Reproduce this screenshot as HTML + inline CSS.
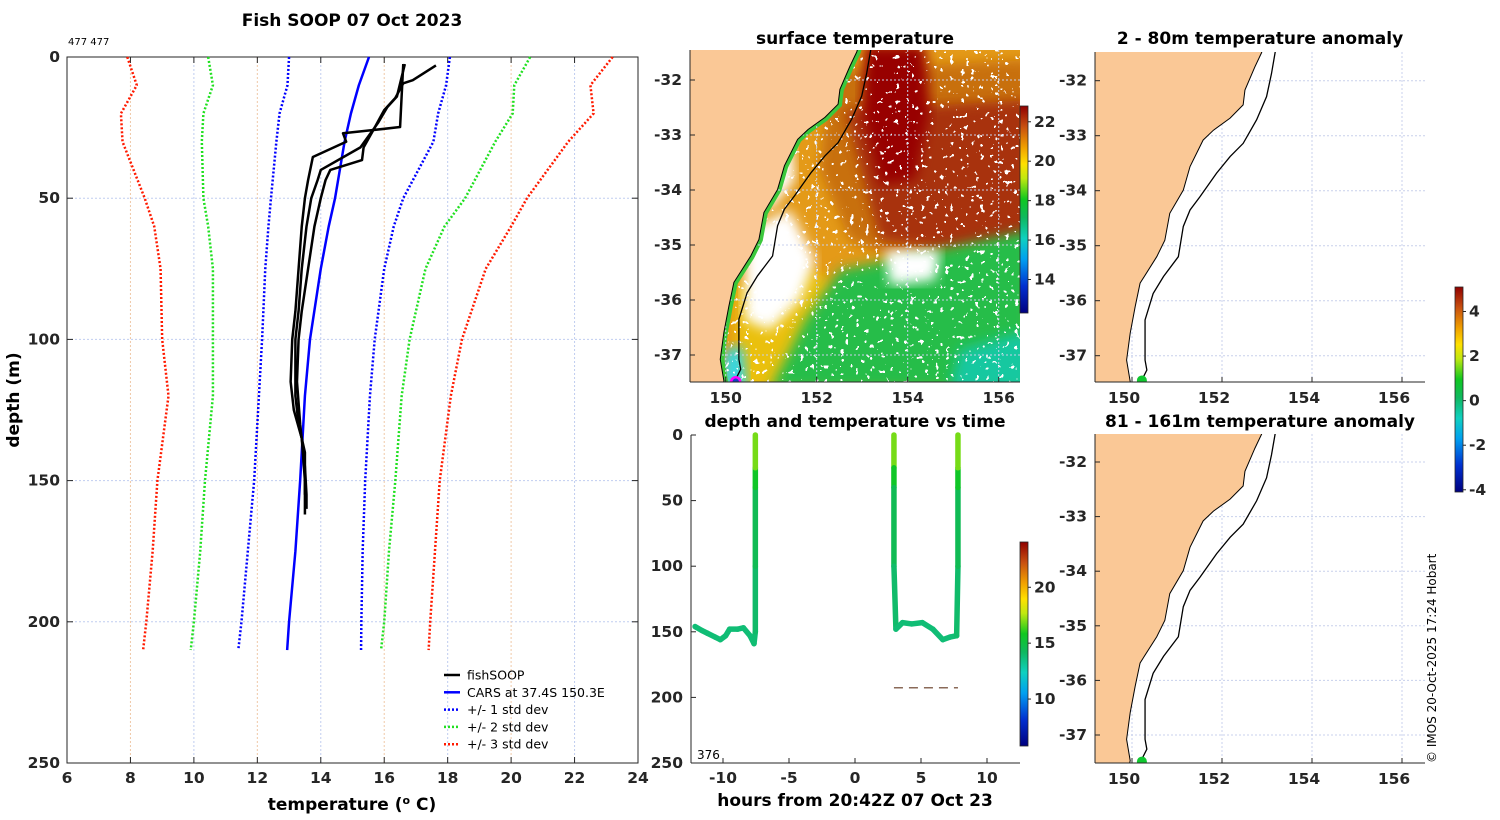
<!DOCTYPE html>
<html><head><meta charset="utf-8"><style>
html,body{margin:0;padding:0;background:#fff}
svg{display:block;font-family:"DejaVu Sans","Liberation Sans",sans-serif}
.t{font-weight:bold;font-size:15.5px;fill:#262626}
.ti{font-weight:bold;font-size:17px;fill:#000}
</style></head><body>
<svg id="fig" width="1500" height="820" viewBox="0 0 1500 820" xmlns="http://www.w3.org/2000/svg">
<defs>
<linearGradient id="cmap" x1="0" y1="1" x2="0" y2="0">
<stop offset="0" stop-color="#00007f"/><stop offset="0.13" stop-color="#0030d0"/><stop offset="0.26" stop-color="#00a0f0"/><stop offset="0.36" stop-color="#10d0c0"/><stop offset="0.46" stop-color="#10b860"/><stop offset="0.55" stop-color="#10c820"/><stop offset="0.65" stop-color="#c0e810"/><stop offset="0.72" stop-color="#ffe000"/><stop offset="0.8" stop-color="#f0a000"/><stop offset="0.9" stop-color="#c85010"/><stop offset="1" stop-color="#900000"/>
</linearGradient>
<clipPath id="c1"><rect x="690" y="50" width="330" height="332"/></clipPath>
<clipPath id="c2"><rect x="1095" y="52" width="330" height="330"/></clipPath>
<clipPath id="c3"><rect x="1095" y="434" width="330" height="329"/></clipPath>
<filter id="blur6"><feGaussianBlur stdDeviation="6"/></filter>
<filter id="speck" x="0" y="0" width="100%" height="100%">
<feTurbulence type="fractalNoise" baseFrequency="0.2" numOctaves="2" seed="4"/>
<feColorMatrix type="matrix" values="0 0 0 0 1  0 0 0 0 1  0 0 0 0 1  1.6 0 0 0 -0.6"/>
<feComponentTransfer><feFuncA type="discrete" tableValues="0 1"/></feComponentTransfer>
</filter>
</defs>
<g id="root"></g>
<text class="ti" x="352" y="26" text-anchor="middle">Fish SOOP 07 Oct 2023</text>
<text x="68" y="45" font-size="10" fill="#000">477 477</text>
<text class="ti" x="352" y="810" text-anchor="middle">temperature (<tspan font-size="11" dy="-6">o</tspan><tspan dy="6"> C)</tspan></text>
<text class="ti" x="0" y="0" transform="translate(19,400) rotate(-90)" text-anchor="middle">depth (m)</text>
<text class="ti" x="855" y="44" text-anchor="middle">surface temperature</text>
<text class="ti" x="1260" y="44" text-anchor="middle">2 - 80m temperature anomaly</text>
<text class="ti" x="855" y="427" text-anchor="middle">depth and temperature vs time</text>
<text class="ti" x="1260" y="427" text-anchor="middle">81 - 161m temperature anomaly</text>
<text class="ti" x="855" y="806" text-anchor="middle">hours from 20:42Z 07 Oct 23</text>
<text x="697" y="759" font-size="12" fill="#000">376</text>
<text x="0" y="0" transform="translate(1436,763) rotate(-90)" font-size="12" fill="#000">© IMOS 20-Oct-2025 17:24 Hobart</text>
</svg>
<script>
// ---------- main profile chart data ----------
const stdDepths = [0,10,20,30,50,60,75,100,120,150,175,200,210];
const cars = [15.52,15.2,14.95,14.75,14.45,14.25,14.0,13.66,13.5,13.35,13.2,13.0,12.94];
const plus1 = [18.07,17.95,17.7,17.55,16.6,16.3,16.0,15.7,15.55,15.4,15.32,15.28,15.27];
const minus1 = [13.0,12.95,12.7,12.6,12.43,12.35,12.25,12.15,12.05,11.9,11.7,11.5,11.4];
const plus2 = [20.6,20.1,20.05,19.5,18.55,17.9,17.3,16.8,16.55,16.35,16.15,16.0,15.9];
const minus2 = [10.45,10.6,10.3,10.25,10.3,10.45,10.6,10.6,10.6,10.35,10.2,10.0,9.9];
const plus3 = [23.2,22.5,22.6,21.8,20.5,20.0,19.2,18.45,18.1,17.75,17.6,17.45,17.4];
const minus3 = [7.9,8.2,7.7,7.75,8.45,8.75,8.95,9.0,9.2,8.85,8.7,8.5,8.4];
const soopA_d = [3,8.2,9.3,14.5,18.8,26,32,36.5,40,43.6,50,60,75,90,100,115,130,145,155,160];
const soopA_t = [17.63,16.9,16.6,16.35,16.0,15.65,15.35,15.3,14.3,14.15,14.0,13.8,13.6,13.4,13.3,13.25,13.35,13.5,13.55,13.55];
const soopB_d = [2.5,24.8,26,27,30,35.4,43.6,50,60,75,90,100,115,125,135,150,162];
const soopB_t = [16.6,16.5,15.55,14.7,14.8,13.75,13.6,13.5,13.4,13.3,13.2,13.1,13.05,13.15,13.4,13.5,13.5];
const soopC_d = [2.5,14,17.7,23.4,32,40,43.6,50,60,75,90,100,120,130,140,155];
const soopC_t = [16.65,16.4,16.1,15.8,15.25,14.0,13.9,13.7,13.55,13.4,13.3,13.2,13.2,13.3,13.5,13.5];
const tempTicks = [6,8,10,12,14,16,18,20,22,24];
const depthTicks = [0,50,100,150,200,250];
// ---------- time panel data ----------
const track1_h = [-12.12,-11.6,-11.2,-10.6,-10.2,-9.8,-9.5,-8.9,-8.45,-7.95,-7.65,-7.55,-7.55,-7.55,-7.55,-7.55];
const track1_d = [146,149,151,154,156,153,148,148,147,153,159,150,100,40,25,0];
const track1_temp = [13.8,13.8,13.8,13.8,13.8,13.8,13.8,13.8,13.8,13.8,13.8,13.9,14.2,14.8,16.5,17.3];
const track2_h = [2.95,2.95,2.95,2.95,3.1,3.6,4.3,5.1,5.9,6.65,7.2,7.7,7.8,7.8,7.8,7.8];
const track2_d = [0,25,40,100,148,143,144,143,148,156,154,153,100,40,25,0];
const track2_temp = [17.3,16.5,14.8,14.2,13.8,13.8,13.8,13.8,13.8,13.8,13.8,13.8,14.2,14.8,16.5,17.3];
const dashHours = [2.95,7.8];
const dashDepth = 192.6;
const hourTicks = [-10,-5,0,5,10];
// ---------- map data ----------
const coastLon = [152.95,152.88,152.73,152.51,152.47,152.18,151.81,151.58,151.29,151.14,150.84,150.73,150.55,150.18,150.07,149.96,149.88,149.96,149.9];
const coastLat = [-31.3,-31.49,-31.75,-32.17,-32.44,-32.68,-32.9,-33.08,-33.56,-33.99,-34.41,-34.9,-35.2,-35.68,-36.11,-36.59,-37.08,-37.47,-37.7];
const isoLon = [153.22,153.18,153.1,152.99,152.77,152.47,152.18,151.88,151.51,151.29,151.14,151.03,150.7,150.47,150.29,150.29,150.33,150.22,150.2];
const isoLat = [-31.3,-31.49,-31.87,-32.29,-32.71,-33.14,-33.38,-33.68,-34.11,-34.35,-34.65,-35.2,-35.56,-35.87,-36.35,-37.08,-37.26,-37.44,-37.7];
const lonTicks = [150,152,154,156];
const latTicks = [-32,-33,-34,-35,-36,-37];
const sstCbarTicks = [14,16,18,20,22];
const timeCbarTicks = [10,15,20];
const anomCbarTicks = [-4,-2,0,2,4];
const shipLon = 150.22, shipLat = -37.45;

const NS='http://www.w3.org/2000/svg';
const root=document.getElementById('root');
function mk(tag,attrs,parent){const e=document.createElementNS(NS,tag);for(const k in attrs)e.setAttribute(k,attrs[k]);(parent||root).appendChild(e);return e;}

const cstops=[[0,[0,0,127]],[0.13,[0,48,208]],[0.26,[0,160,240]],[0.36,[16,208,192]],[0.46,[16,184,96]],[0.55,[16,200,32]],[0.65,[192,232,16]],[0.72,[255,224,0]],[0.8,[240,160,0]],[0.9,[200,80,16]],[1,[144,0,0]]];
function cmap(f){f=Math.max(0,Math.min(1,f));for(let i=1;i<cstops.length;i++){if(f<=cstops[i][0]){const a=cstops[i-1],b=cstops[i],t=(f-a[0])/(b[0]-a[0]);const c=a[1].map((v,j)=>Math.round(v+(b[1][j]-v)*t));return 'rgb('+c.join(',')+')';}}return 'rgb(144,0,0)';}

// ===== main chart =====
const MX0=67,MX1=638,MY0=57,MY1=763;
const xT=t=>MX0+(t-6)/(24-6)*(MX1-MX0);
const yD=d=>MY0+d/250*(MY1-MY0);
const gMain=mk('g',{});


tempTicks.forEach((t,i)=>{
  if(i>0&&i<tempTicks.length-1){
    const gl=mk('line',{x1:xT(t),x2:xT(t),y1:MY0,y2:MY1,stroke:i%2?'#f0c8a8':'#c0cdf0','stroke-dasharray':'2,2','stroke-width':1},gMain);
    
    
  }
  const tk=mk('text',{x:xT(t),y:783,'text-anchor':'middle',class:'t'},gMain);tk.textContent=t;
  
  
  [MY0,MY1].forEach(yy=>{mk('line',{x1:xT(t),x2:xT(t),y1:yy,y2:yy+(yy===MY0?6:-6),stroke:'#262626'},gMain);});
});
depthTicks.forEach((d,i)=>{
  if(i>0&&i<depthTicks.length-1){
    const gl=mk('line',{x1:MX0,x2:MX1,y1:yD(d),y2:yD(d),stroke:'#c0cdf0','stroke-dasharray':'2,2'},gMain);
    
    
  }
  const tk=mk('text',{x:60,y:yD(d)+5,'text-anchor':'end',class:'t'},gMain);tk.textContent=d;
  
  
  mk('line',{x1:MX0,x2:MX0+6,y1:yD(d),y2:yD(d),stroke:'#262626'},gMain);
  mk('line',{x1:MX1,x2:MX1-6,y1:yD(d),y2:yD(d),stroke:'#262626'},gMain);
});
const frame=mk('rect',{x:MX0,y:MY0,width:MX1-MX0,height:MY1-MY0,fill:'none',stroke:'#262626','stroke-width':1},gMain);


function line(ts,ds,col,w,dash,name){
  const p=mk('polyline',{points:ts.map((t,i)=>xT(t)+','+yD(ds[i])).join(' '),fill:'none',stroke:col,'stroke-width':w,'stroke-linejoin':'round','stroke-dasharray':dash||'none'},gMain);
  
  
}
line(minus3,stdDepths,'#ff1a00',2.5,'2,2','minus-3-std-line');
line(plus3,stdDepths,'#ff1a00',2.5,'2,2','plus-3-std-line');
line(minus2,stdDepths,'#20e020',2.5,'2,2','minus-2-std-line');
line(plus2,stdDepths,'#20e020',2.5,'2,2','plus-2-std-line');
line(minus1,stdDepths,'#0000ff',2.5,'2,2','minus-1-std-line');
line(plus1,stdDepths,'#0000ff',2.5,'2,2','plus-1-std-line');
line(cars,stdDepths,'#0000ff',2.5,null,'cars-mean-line');
line(soopA_t,soopA_d,'#000',2.5,null,'fishsoop-profile-a');
line(soopB_t,soopB_d,'#000',2.5,null,'fishsoop-profile-b');
line(soopC_t,soopC_d,'#000',2.5,null,'fishsoop-profile-c');
const legItems=[['fishSOOP','#000',null],['CARS at 37.4S 150.3E','#0000ff',null],['+/- 1 std dev','#0000ff','2,2'],['+/- 2 std dev','#20e020','2,2'],['+/- 3 std dev','#ff1a00','2,2']];
legItems.forEach((it,i)=>{
  const y=675+i*17.3;
  const g=mk('g',{},gMain);
  
  
  mk('line',{x1:444,x2:460,y1:y,y2:y,stroke:it[1],'stroke-width':2.5,'stroke-dasharray':it[2]||'none'},g);
  const tx=mk('text',{x:467,y:y+4.5,'font-size':12.5,fill:'#000'},g);tx.textContent=it[0];
});

// ===== maps =====
function drawMap(cfg){
  const g=mk('g',{});
  
  
  const X=lon=>cfg.x150+(lon-150)*cfg.kx, Y=lat=>cfg.y32+(-32-lat)*cfg.ky;
  const inner=mk('g',{'clip-path':'url(#'+cfg.clip+')'},g);
  if(cfg.sst){
    mk('rect',{x:cfg.x0,y:cfg.y0,width:cfg.w,height:cfg.h,fill:'#e49a18'},inner);
    const blobs=[
      ['#c8700c','830,70 1030,60 1030,260 930,270 850,240 820,170'],
      ['#a83208','845,110 1030,100 1030,240 950,250 880,240'],
      ['#980000','865,45 925,45 930,110 915,180 880,185 862,110'],
      ['#eac010','735,290 790,260 830,280 800,390 735,390'],
      ['#28bd48','770,390 805,320 840,270 900,258 1030,230 1030,390'],
      ['#12c8a0','960,350 1030,330 1030,390 950,390'],
      ['#30d8e8','725,350 742,345 748,390 722,390'],
      ['#ffffff','745,230 790,210 815,260 800,300 770,330 745,320'],
      ['#ffffff','760,140 790,110 795,180 770,210 755,200'],
      ['#ffffff','885,250 940,250 935,280 890,285']
    ];
    blobs.forEach(b=>{const p=mk('polygon',{points:b[1],fill:b[0],filter:'url(#blur6)'},inner);
      
      });
    const sp=mk('rect',{x:cfg.x0,y:cfg.y0,width:cfg.w,height:cfg.h,filter:'url(#speck)',fill:'#fff'},inner);
    
    
    const gs=mk('polyline',{points:coastLon.map((l,i)=>X(l)+','+Y(coastLat[i])).join(' '),fill:'none',stroke:'#3cc83c','stroke-width':8},inner);
    
    
  }
  lonTicks.forEach(l=>{mk('line',{x1:X(l),x2:X(l),y1:cfg.y0,y2:cfg.y0+cfg.h,stroke:'#c8d0ec','stroke-dasharray':'2,2'},inner);});
  latTicks.forEach(l=>{mk('line',{x1:cfg.x0,x2:cfg.x0+cfg.w,y1:Y(l),y2:Y(l),stroke:'#c8d0ec','stroke-dasharray':'2,2'},inner);});
  const landPts=coastLon.map((l,i)=>X(l)+','+Y(coastLat[i])).join(' ')+' '+X(148)+','+Y(-37.7)+' '+X(148)+','+Y(-31.3);
  const land=mk('polygon',{points:landPts,fill:'#fac896',stroke:'#000','stroke-width':1},inner);
  
  
  const iso=mk('polyline',{points:isoLon.map((l,i)=>X(l)+','+Y(isoLat[i])).join(' '),fill:'none',stroke:'#000','stroke-width':1.3},inner);
  
  
  if(cfg.sst){
    const r=mk('circle',{cx:X(shipLon),cy:Y(shipLat)+2,r:4.5,fill:'#1040c0',stroke:'#ff00ff','stroke-width':2.5},inner);
    
    
  } else {
    const r=mk('circle',{cx:X(shipLon),cy:Y(shipLat)+(cfg.dotDy||0),r:5,fill:'#10c830'},inner);
    
    
  }
  mk('line',{x1:cfg.x0,x2:cfg.x0,y1:cfg.y0,y2:cfg.y0+cfg.h,stroke:'#262626'},g);
  mk('line',{x1:cfg.x0,x2:cfg.x0+cfg.w,y1:cfg.y0+cfg.h,y2:cfg.y0+cfg.h,stroke:'#262626'},g);
  lonTicks.forEach(l=>{
    mk('line',{x1:X(l),x2:X(l),y1:cfg.y0+cfg.h,y2:cfg.y0+cfg.h-5,stroke:'#262626'},g);
    const t=mk('text',{x:X(l)-(cfg.sst?0:8),y:cfg.y0+cfg.h+21,'text-anchor':'middle',class:'t'},g);t.textContent=l;
    
    
  });
  latTicks.forEach(l=>{
    mk('line',{x1:cfg.x0,x2:cfg.x0+5,y1:Y(l),y2:Y(l),stroke:'#262626'},g);
    const t=mk('text',{x:cfg.x0-8,y:Y(l)+5,'text-anchor':'end',class:'t'},g);t.textContent=l;
    
    
  });
}
drawMap({name:'sst-map',clip:'c1',sst:true,x0:690,y0:50,w:330,h:332,x150:725.7,kx:45.5,y32:80,ky:55});
drawMap({name:'anomaly-map-2-80m',clip:'c2',x0:1095,y0:52,w:330,h:330,x150:1132,kx:45,y32:80.7,ky:55,dotDy:0});
drawMap({name:'anomaly-map-81-161m',clip:'c3',x0:1095,y0:434,w:330,h:329,x150:1132,kx:45,y32:462,ky:54.6,dotDy:2});

// ===== colorbars =====
function cbar(name,x,y0,y1,vmin,vmax,ticks){
  const g=mk('g',{});
  
  
  mk('rect',{x:x,y:y0,width:8,height:y1-y0,fill:'url(#cmap)',stroke:'#262626','stroke-width':0.8},g);
  ticks.forEach(v=>{const y=y1-(v-vmin)/(vmax-vmin)*(y1-y0);
    mk('line',{x1:x+8,x2:x+11,y1:y,y2:y,stroke:'#262626'},g);
    const t=mk('text',{x:x+14,y:y+5,class:'t','font-size':13},g);t.textContent=v;
    
    });
}
cbar('sst-colorbar',1020,106,313,12.3,22.8,sstCbarTicks);
cbar('time-colorbar',1020,542,746,5.8,24.05,timeCbarTicks);
cbar('anomaly-colorbar',1455,287,492,-4.1,5.1,anomCbarTicks);

// ===== time panel =====
const TX=h=>855+h*13.2, TY=d=>435+d*(763-435)/250;
const gT=mk('g',{});


mk('line',{x1:691,x2:691,y1:435,y2:763,stroke:'#262626'},gT);
mk('line',{x1:691,x2:1020,y1:763,y2:763,stroke:'#262626'},gT);
depthTicks.forEach(d=>{mk('line',{x1:691,x2:696,y1:TY(d),y2:TY(d),stroke:'#262626'},gT);
  const t=mk('text',{x:683,y:TY(d)+5,'text-anchor':'end',class:'t'},gT);t.textContent=d;
  
  });
hourTicks.forEach(h=>{mk('line',{x1:TX(h),x2:TX(h),y1:763,y2:758,stroke:'#262626'},gT);
  const t=mk('text',{x:TX(h),y:783,'text-anchor':'middle',class:'t'},gT);t.textContent=h;
  
  });
function track(hs,ds,ts,name){
  for(let i=0;i<hs.length-1;i++){
    const s=mk('line',{x1:TX(hs[i]),y1:TY(ds[i]),x2:TX(hs[i+1]),y2:TY(ds[i+1]),stroke:cmap(((ts[i]+ts[i+1])/2-5.8)/(24.05-5.8)),'stroke-width':5.5,'stroke-linecap':'round'},gT);
    
    
  }
}
track(track1_h,track1_d,track1_temp,'track-1');
track(track2_h,track2_d,track2_temp,'track-2');
const dl=mk('line',{x1:TX(dashHours[0]),x2:TX(dashHours[1]),y1:TY(dashDepth),y2:TY(dashDepth),stroke:'#8a6a58','stroke-width':1.5,'stroke-dasharray':'9,6'},gT);


</script>
</body></html>
